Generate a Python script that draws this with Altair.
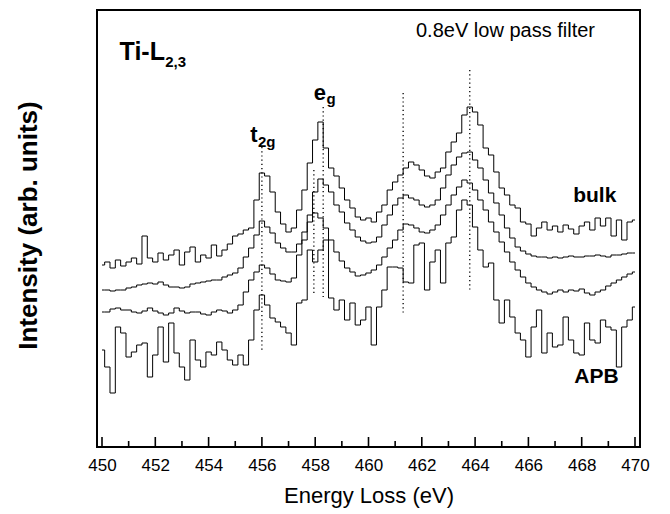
import altair as alt
import pandas as pd

# Energy grid (eV), 0.2 eV channels
energy = [round(450 + 0.2 * i, 1) for i in range(101)]

# Spectra (arbitrary units, already vertically offset)
bulk = [182, 185, 179, 187, 181, 185, 189, 183, 211, 189,
        185, 194, 187, 192, 197, 182, 195, 200, 185, 192,
        189, 202, 191, 197, 203, 211, 213, 217, 219, 247,
        274, 271, 255, 235, 223, 215, 219, 237, 257, 284,
        307, 325, 299, 279, 271, 259, 247, 239, 230, 227,
        229, 225, 235, 242, 257, 265, 272, 279, 285, 282,
        277, 271, 269, 275, 279, 295, 305, 314, 332, 340,
        335, 322, 299, 292, 275, 259, 252, 242, 239, 225,
        223, 211, 219, 225, 217, 221, 215, 222, 218, 213,
        221, 225, 217, 229, 221, 229, 211, 227, 207, 225, 227]

smooth_a = [157, 157, 156, 157, 157, 159, 160, 162, 163, 164,
            163, 165, 162, 160, 160, 159, 160, 163, 164, 165,
            166, 167, 167, 170, 172, 174, 179, 190, 199, 212,
            226, 220, 214, 204, 199, 195, 195, 203, 215, 232,
            255, 268, 262, 255, 242, 235, 224, 217, 210, 206,
            204, 205, 210, 222, 232, 242, 249, 252, 249, 247,
            242, 240, 242, 247, 259, 272, 282, 290, 294, 295,
            287, 279, 267, 254, 244, 232, 219, 209, 200, 196,
            193, 191, 190, 190, 189, 190, 189, 190, 191, 190,
            190, 191, 191, 192, 191, 190, 192, 192, 193, 194, 194]

smooth_b = [135, 135, 138, 139, 137, 137, 135, 134, 136, 139,
            136, 134, 132, 134, 139, 136, 134, 135, 135, 133,
            132, 135, 137, 136, 134, 137, 142, 155, 167, 175,
            182, 179, 173, 167, 166, 165, 169, 192, 207, 225,
            234, 229, 219, 207, 195, 186, 179, 175, 171, 172,
            174, 177, 182, 190, 199, 207, 217, 223, 222, 219,
            215, 214, 217, 222, 232, 242, 252, 260, 267, 264,
            257, 247, 237, 225, 215, 205, 195, 185, 177, 170,
            164, 160, 157, 155, 153, 155, 157, 155, 157, 156,
            158, 154, 152, 155, 157, 161, 164, 167, 170, 173, 175]

apb = [97, 80, 54, 120, 114, 90, 95, 102, 104, 70,
       92, 120, 85, 124, 94, 80, 67, 107, 87, 80,
       95, 92, 105, 97, 87, 82, 92, 82, 107, 137,
       152, 142, 129, 125, 120, 114, 102, 144, 147, 197,
       185, 197, 207, 149, 137, 147, 127, 144, 122, 127,
       140, 102, 140, 157, 180, 180, 179, 165, 164, 202,
       204, 157, 185, 197, 164, 204, 210, 237, 247, 242,
       220, 197, 180, 184, 147, 124, 147, 130, 114, 107,
       90, 120, 137, 94, 114, 100, 102, 130, 107, 94,
       92, 124, 107, 104, 127, 120, 117, 80, 120, 127, 140]

series_names = ["bulk", "mid1", "mid2", "APB"]
series_vals = [bulk, smooth_a, smooth_b, apb]

# Dotted marker lines (energy, top, bottom)
marker_e = [456.0, 457.95, 458.3, 461.3, 463.8]
marker_top = [300, 277, 340, 354, 377]
marker_bot = [97, 151, 150, 134, 157]

# Axis ticks (eV) and their inward lengths (intensity units)
major_ticks = list(range(450, 471, 2))
minor_ticks = list(range(451, 470, 2))
major_len = 10
minor_len = 6

rows = []
for name, vals in zip(series_names, series_vals):
    for e, v in zip(energy, vals):
        rows.append({"energy": e, "intensity": v, "series": name})
df = pd.DataFrame(rows)

markers = pd.DataFrame({"energy": marker_e, "top": marker_top, "bot": marker_bot})
tick_df = pd.DataFrame({
    "pos": major_ticks + minor_ticks,
    "len": [major_len] * len(major_ticks) + [minor_len] * len(minor_ticks),
})

FONT = "Liberation Sans"
x_scale = alt.Scale(domain=[450, 470], nice=False, zero=False)
y_scale = alt.Scale(domain=[0, 437], nice=False, zero=False)

lines = alt.Chart(df).mark_line(interpolate="step", color="black", strokeWidth=1).encode(
    x=alt.X("energy:Q", scale=x_scale,
            axis=alt.Axis(values=major_ticks, ticks=False,
                          labelPadding=10, labelFontSize=17, labelFont=FONT,
                          labelFlush=False, labelOverlap=False,
                          labelColor="black", domain=False, grid=False,
                          title="Energy Loss (eV)", titleFont=FONT,
                          titleFontSize=22, titleFontWeight="normal",
                          titleColor="black", titlePadding=12)),
    y=alt.Y("intensity:Q", scale=y_scale,
            axis=alt.Axis(labels=False, ticks=False, domain=False, grid=False,
                          title="Intensity (arb. units)", titleFont=FONT,
                          titleFontSize=26, titleFontWeight="bold",
                          titleColor="black", titleAngle=270,
                          titleAlign="center", titleBaseline="middle",
                          titleX=-69, titleY=215)),
    detail="series:N",
)

# Inward tick marks drawn as thin bars from the bottom frame
ticks = alt.Chart(tick_df).mark_bar(color="black", size=1.6).encode(
    x=alt.X("pos:Q", scale=x_scale),
    y=alt.Y("len:Q", scale=y_scale),
    y2=alt.Y2(datum=0),
)

rules = alt.Chart(markers).mark_rule(color="black", strokeWidth=1.3, strokeDash=[1.2, 3]).encode(
    x=alt.X("energy:Q", scale=x_scale),
    y=alt.Y("top:Q", scale=y_scale),
    y2="bot:Q",
)

def label(texts, xs, ys, size, weight="bold", align="left"):
    d = pd.DataFrame({"t": texts, "x": xs, "y": ys})
    return alt.Chart(d).mark_text(font=FONT, fontSize=size, fontWeight=weight,
                                  align=align, baseline="alphabetic",
                                  color="black").encode(
        x=alt.X("x:Q", scale=x_scale), y=alt.Y("y:Q", scale=y_scale), text="t:N")

ti = label(["Ti-L"], [450.66], [387], 25)
big = label(["bulk", "APB"], [467.68, 467.72], [245, 64], 21)
orb = label(["t", "e"], [455.56, 457.95], [305, 347], 22)
subs = label(["2,3", "2g", "g"], [452.37, 455.85, 458.42], [380, 300, 343], 15)
note = label(["0.8eV low pass filter"], [465.14], [410], 20, weight="normal", align="center")

chart = alt.layer(lines, rules, ticks, ti, big, orb, subs, note).properties(
    width=543, height=437,
    autosize=alt.AutoSizeParams(type="none"),
    padding={"left": 97, "top": 10, "right": 30, "bottom": 67},
).configure_view(stroke="black", strokeWidth=2)

chart.save("out.html", embed_options={"renderer": "svg", "actions": False})
